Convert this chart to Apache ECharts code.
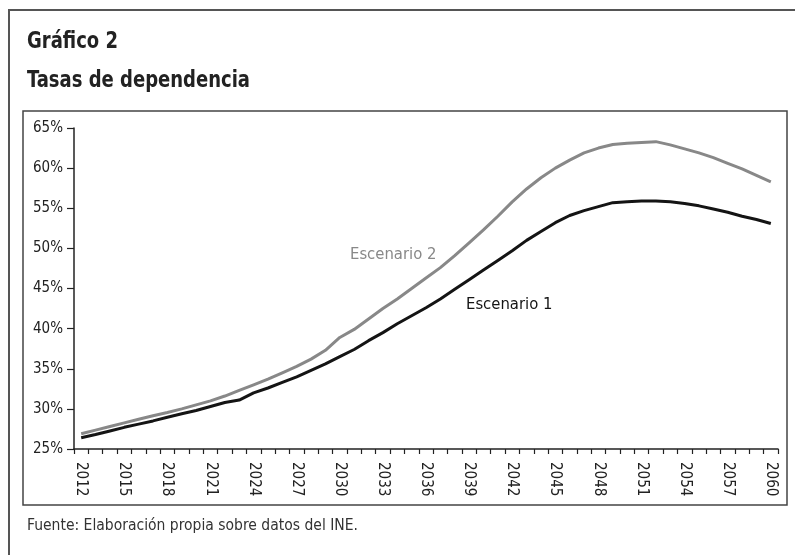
<!DOCTYPE html>
<html>
<head>
<meta charset="utf-8">
<script src="https://cdn.jsdelivr.net/npm/echarts@6/dist/echarts.min.js"></script>
<style>
html,body{margin:0;padding:0;background:#fff;}
#c{width:795px;height:555px;}
</style>
</head>
<body>
<div id="c"></div>
<script>
var years = [];
for (var y = 2012; y <= 2060; y++) years.push(String(y));

var escenario1 = [26.4,26.8,27.25,27.7,28.1,28.5,28.95,29.4,29.8,30.3,30.8,31.1,32.0,32.6,33.3,34.0,34.8,35.6,36.5,37.4,38.5,39.5,40.6,41.6,42.6,43.7,44.9,46.1,47.3,48.5,49.7,51.0,52.1,53.2,54.1,54.7,55.2,55.7,55.8,55.9,55.9,55.8,55.6,55.3,54.9,54.5,54.0,53.6,53.1];
var escenario2 = [26.9,27.35,27.8,28.25,28.7,29.15,29.55,30.0,30.5,31.0,31.6,32.3,33.0,33.7,34.5,35.3,36.2,37.3,38.9,39.9,41.2,42.5,43.7,45.0,46.3,47.6,49.1,50.7,52.3,54.0,55.8,57.4,58.8,60.0,61.0,61.9,62.5,62.95,63.1,63.2,63.3,62.9,62.4,61.9,61.3,60.6,59.9,59.1,58.3];

var yTicks = { min: 25, max: 65, interval: 5 };
var titleText = 'Gráfico 2';
var subtitleText = 'Tasas de dependencia';
var sourceText = 'Fuente: Elaboración propia sobre datos del INE.';
var seriesNames = ['Escenario 1', 'Escenario 2'];

var FONT = '"Liberation Sans Narrow", "DejaVu Sans Condensed", "Roboto", sans-serif';

var chart = echarts.init(document.getElementById('c'), null, {renderer: 'canvas'});
chart.setOption({
  animation: false,
  backgroundColor: '#fff',
  textStyle: { fontFamily: FONT },
  grid: { left: 74, top: 128, right: 17, bottom: 106, containLabel: false },
  xAxis: {
    type: 'category',
    data: years,
    boundaryGap: true,
    axisLine: { show: true, lineStyle: { color: '#222', width: 1.5 } },
    axisTick: { show: true, interval: 0, length: 5, lineStyle: { color: '#222', width: 1.2 } },
    axisLabel: { interval: 2, rotate: -90, margin: 13, color: '#222', fontSize: 15, fontFamily: FONT },
    splitLine: { show: false }
  },
  yAxis: {
    type: 'value',
    min: yTicks.min, max: yTicks.max, interval: yTicks.interval,
    axisLine: { show: true, lineStyle: { color: '#222', width: 1.5 } },
    axisTick: { show: true, length: 7, lineStyle: { color: '#222', width: 1.2 } },
    axisLabel: { formatter: '{value}%', margin: 11, color: '#222', fontSize: 15, fontFamily: FONT },
    splitLine: { show: false }
  },
  series: [
    {
      name: seriesNames[0], type: 'line', data: escenario1, symbol: 'none', smooth: false,
      lineStyle: { color: '#141414', width: 3 }, z: 3
    },
    {
      name: seriesNames[1], type: 'line', data: escenario2, symbol: 'none', smooth: false,
      lineStyle: { color: '#888888', width: 3 }, z: 2
    }
  ],
  graphic: [
    { type: 'rect', shape: { x: 9, y: 10, width: 800, height: 600 }, style: { fill: 'none', stroke: '#555', lineWidth: 2 }, silent: true, z: -10 },
    { type: 'rect', shape: { x: 23, y: 111, width: 764, height: 394 }, style: { fill: 'none', stroke: '#444', lineWidth: 1.5 }, silent: true, z: -10 },
    { type: 'text', x: 27, y: 31, scaleX: 0.87, style: { text: titleText, font: 'bold 23px ' + FONT, fill: '#222' } },
    { type: 'text', x: 27, y: 70, scaleX: 0.87, style: { text: subtitleText, font: 'bold 23px ' + FONT, fill: '#222' } },
    { type: 'text', left: 27, top: 518, style: { text: sourceText, font: '15.5px ' + FONT, fill: '#333' } },
    { type: 'text', left: 350, top: 246, style: { text: seriesNames[1], font: '16.5px ' + FONT, fill: '#888888' } },
    { type: 'text', left: 466, top: 296, style: { text: seriesNames[0], font: '16.5px ' + FONT, fill: '#141414' } }
  ]
});
</script>
</body>
</html>
